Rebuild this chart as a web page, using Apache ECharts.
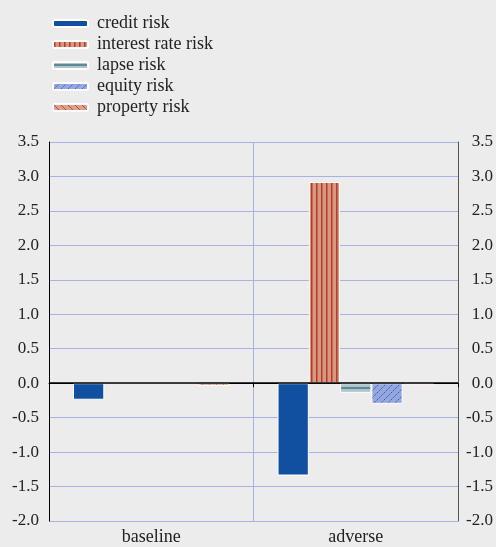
<!DOCTYPE html>
<html>
<head>
<meta charset="utf-8">
<script src="https://cdn.jsdelivr.net/npm/echarts@6/dist/echarts.min.js"></script>
<style>
  html, body { margin: 0; padding: 0; background: #ebeceb; }
  #chart { width: 496px; height: 547px; }
</style>
</head>
<body>
<div id="chart"></div>
<script>
const categories = ['baseline', 'adverse']
const seriesNames = ['credit risk', 'interest rate risk', 'lapse risk', 'equity risk', 'property risk']
const creditRisk = [-0.24, -1.34]
const interestRisk = [0, 2.92]
const lapseRisk = [0, -0.14]
const equityRisk = [0, -0.30]
const propertyRisk = [-0.04, -0.03]

const FONT = "'Liberation Serif', 'Times New Roman', serif"

// small canvas tiles used as hatch fills
function pattern(w, h, bg, draw) {
  const c = document.createElement('canvas')
  c.width = w
  c.height = h
  const ctx = c.getContext('2d')
  ctx.fillStyle = bg
  ctx.fillRect(0, 0, w, h)
  draw(ctx)
  return { image: c, repeat: 'repeat' }
}

const interestFill = pattern(5, 10, '#d9977f', ctx => {
  ctx.fillStyle = '#b13b2d'
  ctx.fillRect(1, 0, 1.5, 10)
})
const lapseFill = pattern(10, 7, '#afc4ca', ctx => {
  ctx.fillStyle = '#5a8b96'
  ctx.fillRect(0, 2, 10, 2)
})
const equityFill = pattern(7, 7, '#95a7df', ctx => {
  ctx.strokeStyle = '#3055b2'
  ctx.lineWidth = 1
  ctx.setLineDash([1.5, 1])
  ctx.beginPath()
  ctx.moveTo(-1, 8); ctx.lineTo(8, -1)
  ctx.stroke()
})
const propertyFill = pattern(7, 7, '#dba18c', ctx => {
  ctx.strokeStyle = '#b6503c'
  ctx.lineWidth = 1
  ctx.beginPath()
  ctx.moveTo(-1, -1); ctx.lineTo(8, 8)
  ctx.stroke()
})

const fills = ['#1150a0', interestFill, lapseFill, equityFill, propertyFill]
const values = [creditRisk, interestRisk, lapseRisk, equityRisk, propertyRisk]

const chart = echarts.init(document.getElementById('chart'))

const series = seriesNames.map((name, i) => ({
  name,
  type: 'bar',
  yAxisIndex: 0,
  barGap: '0%',
  barCategoryGap: '23.5%',
  itemStyle: {
    color: fills[i],
    borderColor: '#ffffff',
    borderWidth: 1
  },
  emphasis: { disabled: true },
  data: values[i]
}))

// black zero line over the bars
series[series.length - 1].markLine = {
  silent: true,
  symbol: 'none',
  label: { show: false },
  lineStyle: { color: '#000', width: 1.5, type: 'solid' },
  data: [{ yAxis: 0 }]
}

chart.setOption({
  backgroundColor: '#ebeceb',
  animation: false,
  textStyle: { fontFamily: FONT },
  grid: {
    left: 49,
    right: 36,
    top: 142,
    bottom: 26
  },
  legend: {
    orient: 'vertical',
    left: 47,
    top: 8,
    itemWidth: 35,
    itemHeight: 7,
    itemGap: 0,
    data: seriesNames,
    textStyle: {
      fontFamily: FONT,
      fontSize: 18,
      lineHeight: 21,
      color: '#222',
      padding: [0, 0, 0, 4]
    }
  },
  xAxis: {
    type: 'category',
    data: categories,
    axisLine: { lineStyle: { color: '#000', width: 1 } },
    axisTick: { show: true, length: 4, lineStyle: { color: '#000' } },
    axisLabel: { fontFamily: FONT, fontSize: 18, color: '#222', margin: 7 },
    splitLine: { show: true, lineStyle: { color: '#a7b1e3', width: 1 } }
  },
  yAxis: [{
    type: 'value',
    min: -2,
    max: 3.5,
    interval: 0.5,
    axisLine: { show: true, lineStyle: { color: '#000', width: 1 } },
    axisTick: { show: false },
    axisLabel: {
      fontFamily: FONT, fontSize: 17, color: '#222', margin: 10,
      formatter: v => v.toFixed(1)
    },
    splitLine: { show: true, lineStyle: { color: '#a7b1e3', width: 1 } }
  }, {
    type: 'value',
    position: 'right',
    min: -2,
    max: 3.5,
    interval: 0.5,
    axisLine: { show: true, lineStyle: { color: '#555', width: 1 } },
    axisTick: { show: false },
    axisLabel: {
      fontFamily: FONT, fontSize: 17, color: '#222', margin: 35, align: 'right',
      formatter: v => v.toFixed(1)
    },
    splitLine: { show: false }
  }],
  series
})
</script>
</body>
</html>
